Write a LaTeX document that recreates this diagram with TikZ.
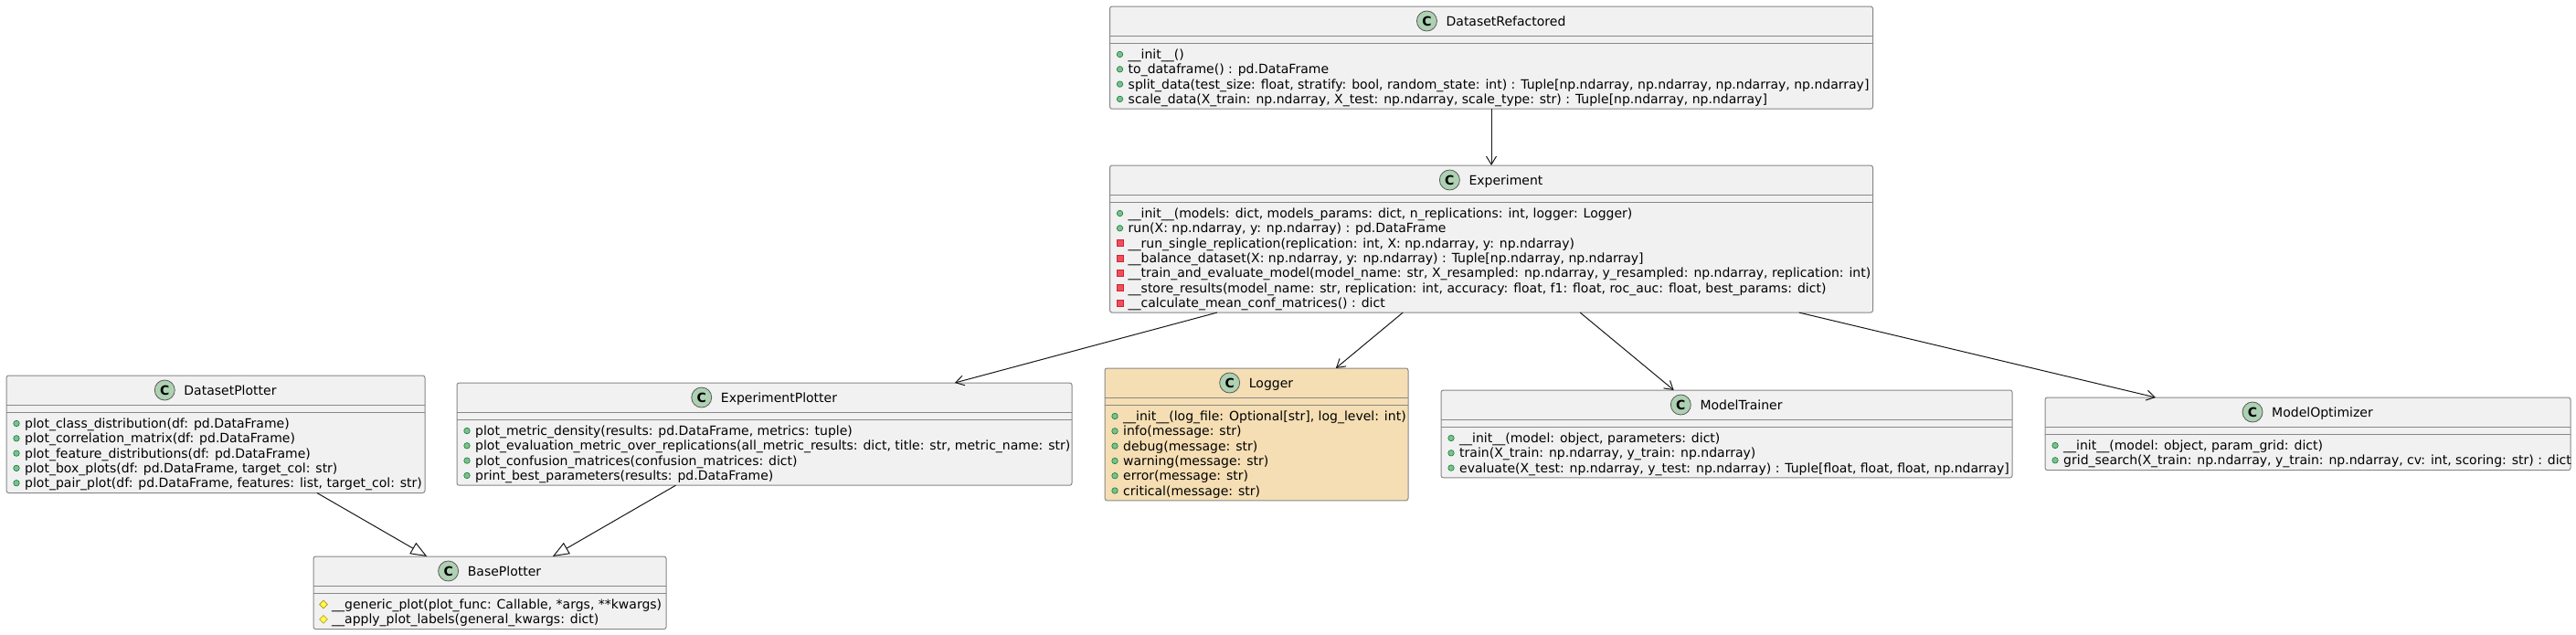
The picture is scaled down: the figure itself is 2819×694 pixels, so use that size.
\documentclass[tikz,border=0pt]{standalone}
\usepackage{fontspec}
\setmainfont{DejaVu Sans}
\usetikzlibrary{arrows.meta,shapes.geometric}
\definecolor{boxfill}{HTML}{F1F1F1}
\definecolor{boxline}{HTML}{888888}
\definecolor{wheat}{HTML}{F5DEB3}
\definecolor{spotfill}{HTML}{ADD1B2}
\definecolor{spotline}{HTML}{5A5A5A}
\definecolor{edgecol}{HTML}{181818}
\definecolor{pubfill}{HTML}{84BE84}
\definecolor{publine}{HTML}{038048}
\definecolor{privfill}{HTML}{F24D5C}
\definecolor{privline}{HTML}{C82930}
\definecolor{protfill}{HTML}{FFFF44}
\definecolor{protline}{HTML}{B38D22}
\tikzset{
 classbox/.style={draw=boxline, line width=1pt, rounded corners=2.5pt, inner sep=0pt, outer sep=0pt},
 sepline/.style={draw=boxline, line width=1pt},
 classname/.style={inner sep=0pt, text height=10.2pt, text depth=0pt, font=\fontsize{14pt}{16pt}\selectfont},
 member/.style={anchor=west, inner sep=0pt, text height=10.2pt, text depth=0pt, font=\fontsize{14pt}{16pt}\selectfont},
 spot/.style={circle, draw=spotline, fill=spotfill, line width=0.8pt, minimum size=22pt, inner sep=0pt, font=\fontsize{14pt}{16pt}\selectfont\bfseries},
 vispub/.style={circle, draw=publine, fill=pubfill, line width=0.6pt, minimum size=6.5pt, inner sep=0pt},
 vispriv/.style={rectangle, draw=privline, fill=privfill, line width=0.6pt, minimum size=7pt, inner sep=0pt},
 visprot/.style={diamond, draw=protline, fill=protfill, line width=0.6pt, minimum size=9pt, inner sep=0pt},
 assoc/.style={draw=edgecol, line width=1pt, -{Straight Barb[length=9pt, width=11pt, line width=1pt]}},
 inherit/.style={draw=edgecol, line width=1pt, -{Triangle[length=18pt, width=14pt, fill=white, line width=1pt]}},
}
% #1 id, #2 left, #3 top, #4 right, #5 number of member lines, #6 fill, #7 title
\newcommand\umlbox[7]{%
  \pgfmathsetmacro\boxbot{#3+47+16.3*#5}%
  \node[classbox, fill=#6, minimum width={#4-#2}, minimum height={\boxbot-#3}] (#1) at ({(#2+#4)/2},{(#3+\boxbot)/2}) {};
  \draw[sepline] ({#2},{#3+32}) -- ({#4},{#3+32});
  \draw[sepline] ({#2},{#3+40}) -- ({#4},{#3+40});
  \node[classname] (#1-name) at ({(#2+#4)/2+16},{#3+16}) {#7};
  \node[spot] (#1-spot) at ([xshift=-21pt]#1-name.west) {C};
}
% #1 id, #2 visibility, #3 box left, #4 box top, #5 line index, #6 text
\newcommand\mem[6]{%
  \node[vis#2] (#1-v) at ({#3+11},{#4+52.5+16.3*#5}) {};
  \node[member] (#1) at ({#3+20},{#4+52.5+16.3*#5}) {#6};
}
\begin{document}
\begin{tikzpicture}[x=1pt,y=-1pt]
\fill[white] (0,0) rectangle (2819,694);
\useasboundingbox (0,0) rectangle (2819,694);

% DatasetRefactored
\umlbox{DR}{1214.5}{7}{2049.5}{4}{boxfill}{DatasetRefactored}
\mem{dr0}{pub}{1214.5}{7}{0}{\_\_init\_\_()}
\mem{dr1}{pub}{1214.5}{7}{1}{to\_dataframe() : pd.DataFrame}
\mem{dr2}{pub}{1214.5}{7}{2}{split\_data(test\_size: float, stratify: bool, random\_state: int) : Tuple[np.ndarray, np.ndarray, np.ndarray, np.ndarray]}
\mem{dr3}{pub}{1214.5}{7}{3}{scale\_data(X\_train: np.ndarray, X\_test: np.ndarray, scale\_type: str) : Tuple[np.ndarray, np.ndarray]}

% Experiment
\umlbox{EX}{1214.5}{181}{2049.5}{7}{boxfill}{Experiment}
\mem{ex0}{pub}{1214.5}{181}{0}{\_\_init\_\_(models: dict, models\_params: dict, n\_replications: int, logger: Logger)}
\mem{ex1}{pub}{1214.5}{181}{1}{run(X: np.ndarray, y: np.ndarray) : pd.DataFrame}
\mem{ex2}{priv}{1214.5}{181}{2}{\_\_run\_single\_replication(replication: int, X: np.ndarray, y: np.ndarray)}
\mem{ex3}{priv}{1214.5}{181}{3}{\_\_balance\_dataset(X: np.ndarray, y: np.ndarray) : Tuple[np.ndarray, np.ndarray]}
\mem{ex4}{priv}{1214.5}{181}{4}{\_\_train\_and\_evaluate\_model(model\_name: str, X\_resampled: np.ndarray, y\_resampled: np.ndarray, replication: int)}
\mem{ex5}{priv}{1214.5}{181}{5}{\_\_store\_results(model\_name: str, replication: int, accuracy: float, f1: float, roc\_auc: float, best\_params: dict)}
\mem{ex6}{priv}{1214.5}{181}{6}{\_\_calculate\_mean\_conf\_matrices() : dict}

% DatasetPlotter
\umlbox{DP}{7}{411}{465}{5}{boxfill}{DatasetPlotter}
\mem{dp0}{pub}{7}{411}{0}{plot\_class\_distribution(df: pd.DataFrame)}
\mem{dp1}{pub}{7}{411}{1}{plot\_correlation\_matrix(df: pd.DataFrame)}
\mem{dp2}{pub}{7}{411}{2}{plot\_feature\_distributions(df: pd.DataFrame)}
\mem{dp3}{pub}{7}{411}{3}{plot\_box\_plots(df: pd.DataFrame, target\_col: str)}
\mem{dp4}{pub}{7}{411}{4}{plot\_pair\_plot(df: pd.DataFrame, features: list, target\_col: str)}

% ExperimentPlotter
\umlbox{EP}{500}{419}{1173}{4}{boxfill}{ExperimentPlotter}
\mem{ep0}{pub}{500}{419}{0}{plot\_metric\_density(results: pd.DataFrame, metrics: tuple)}
\mem{ep1}{pub}{500}{419}{1}{plot\_evaluation\_metric\_over\_replications(all\_metric\_results: dict, title: str, metric\_name: str)}
\mem{ep2}{pub}{500}{419}{2}{plot\_confusion\_matrices(confusion\_matrices: dict)}
\mem{ep3}{pub}{500}{419}{3}{print\_best\_parameters(results: pd.DataFrame)}

% Logger
\umlbox{LG}{1209}{403}{1541}{6}{wheat}{Logger}
\mem{lg0}{pub}{1209}{403}{0}{\_\_init\_\_(log\_file: Optional[str], log\_level: int)}
\mem{lg1}{pub}{1209}{403}{1}{info(message: str)}
\mem{lg2}{pub}{1209}{403}{2}{debug(message: str)}
\mem{lg3}{pub}{1209}{403}{3}{warning(message: str)}
\mem{lg4}{pub}{1209}{403}{4}{error(message: str)}
\mem{lg5}{pub}{1209}{403}{5}{critical(message: str)}

% ModelTrainer
\umlbox{MT}{1577}{427}{2202}{3}{boxfill}{ModelTrainer}
\mem{mt0}{pub}{1577}{427}{0}{\_\_init\_\_(model: object, parameters: dict)}
\mem{mt1}{pub}{1577}{427}{1}{train(X\_train: np.ndarray, y\_train: np.ndarray)}
\mem{mt2}{pub}{1577}{427}{2}{evaluate(X\_test: np.ndarray, y\_test: np.ndarray) : Tuple[float, float, float, np.ndarray]}

% ModelOptimizer
\umlbox{MO}{2238}{435}{2813}{2}{boxfill}{ModelOptimizer}
\mem{mo0}{pub}{2238}{435}{0}{\_\_init\_\_(model: object, param\_grid: dict)}
\mem{mo1}{pub}{2238}{435}{1}{grid\_search(X\_train: np.ndarray, y\_train: np.ndarray, cv: int, scoring: str) : dict}

% BasePlotter
\umlbox{BP}{343}{609}{729}{2}{boxfill}{BasePlotter}
\mem{bp0}{prot}{343}{609}{0}{\_\_generic\_plot(plot\_func: Callable, *args, **kwargs)}
\mem{bp1}{prot}{343}{609}{1}{\_\_apply\_plot\_labels(general\_kwargs: dict)}

% connectors
\draw[assoc] (DR) -- (EX);
\draw[assoc] (EX) -- (EP);
\draw[assoc] (EX) -- (LG);
\draw[assoc] (EX) -- (MT);
\draw[assoc] (EX) -- (MO);
\draw[inherit] (DP) -- (BP);
\draw[inherit] (EP) -- (BP);
\end{tikzpicture}
\end{document}
